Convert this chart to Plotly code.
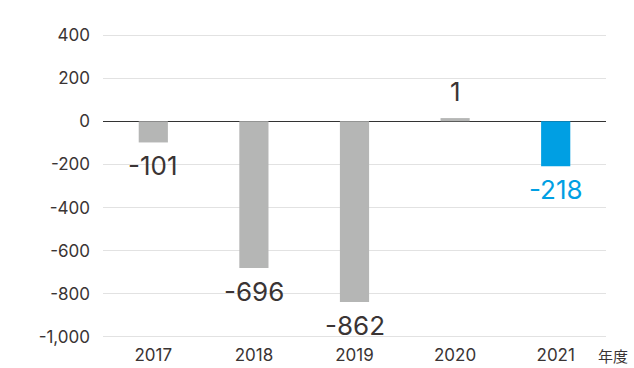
import plotly.graph_objects as go

years = ["2017", "2018", "2019", "2020", "2021"]
labels = ["-101", "-696", "-862", "1", "-218"]
bar_heights = [-98, -680, -838, 15, -208]
bar_colors = ["#b5b6b5", "#b5b6b5", "#b5b6b5", "#b5b6b5", "#009fe3"]
label_colors = ["#3a3434", "#3a3434", "#3a3434", "#3a3434", "#009fe3"]
y_ticks = [400, 200, 0, -200, -400, -600, -800, -1000]
y_tick_text = ["400", "200", "0", "-200", "-400", "-600", "-800", "-1,000"]

FONT = "Inter, Roboto, sans-serif"

fig = go.Figure()
fig.add_trace(go.Bar(
    x=years, y=bar_heights, marker=dict(color=bar_colors, line=dict(width=0)),
    width=0.29, hoverinfo="skip",
))

for i, (h, lab, col) in enumerate(zip(bar_heights, labels, label_colors)):
    pos = h >= 0
    fig.add_annotation(
        x=i, y=h, text=lab, showarrow=False,
        yanchor="bottom" if pos else "top",
        yshift=9 if pos else -6,
        font=dict(size=26, color=col, family=FONT),
    )

fig.add_annotation(
    xref="paper", yref="paper", x=1.0, y=0, xanchor="left", yanchor="top",
    xshift=-10, yshift=-5, text="年度", showarrow=False,
    font=dict(size=15, color="#3a3434", family="Noto Sans CJK JP"),
)

fig.update_layout(
    width=634, height=368,
    margin=dict(l=103, r=28, t=34, b=30),
    paper_bgcolor="white", plot_bgcolor="white",
    showlegend=False,
    font=dict(family=FONT, color="#3a3434"),
    xaxis=dict(
        type="category", range=[-0.5, 4.5], automargin=False,
        showgrid=False, showline=False, ticks="",
        tickfont=dict(size=17, color="#3a3434", family=FONT),
        ticklabelstandoff=5,
    ),
    yaxis=dict(
        range=[-1005, 405], tickvals=y_ticks, ticktext=y_tick_text,
        automargin=False,
        showgrid=True, gridcolor="#e2e2e2", gridwidth=1,
        zeroline=True, zerolinecolor="#333333", zerolinewidth=1.3,
        showline=False, ticks="",
        tickfont=dict(size=17, color="#3a3434", family=FONT),
        ticklabelstandoff=12,
    ),
)

fig.write_html("out.html")
